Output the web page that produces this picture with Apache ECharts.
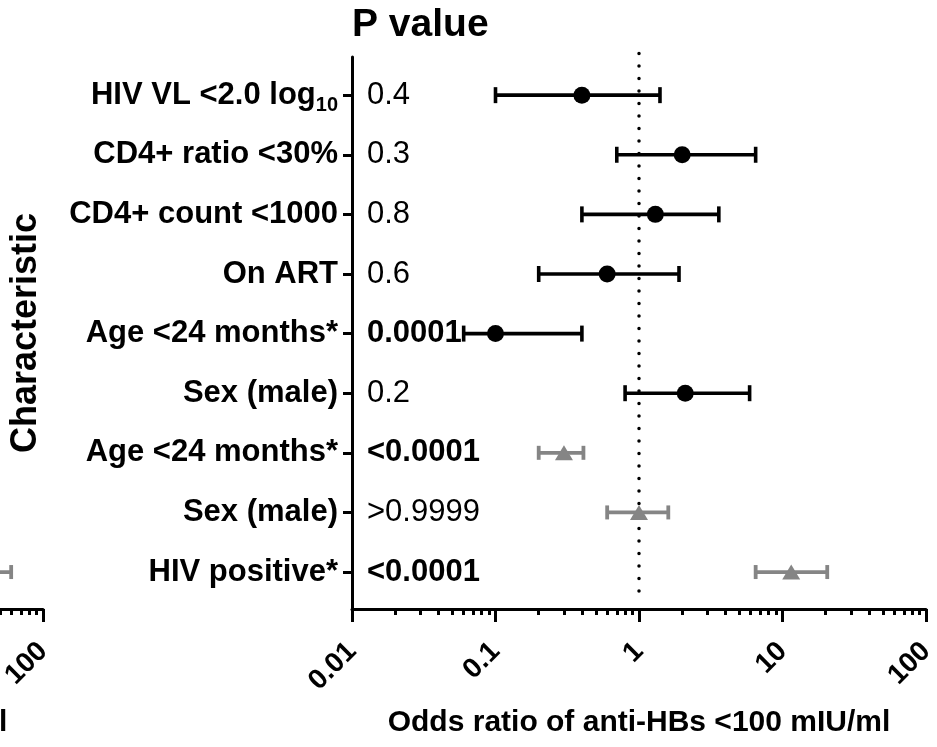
<!DOCTYPE html>
<html>
<head>
<meta charset="utf-8">
<script src="https://cdn.jsdelivr.net/npm/echarts@6/dist/echarts.min.js"></script>
<style>
  html, body { margin: 0; padding: 0; background: #ffffff; }
  #chart { width: 937px; height: 747px; }
</style>
</head>
<body>
<div id="chart"></div>
<script>
// Forest plot: odds ratios (95% CI) of anti-HBs <100 mIU/ml by characteristic.
// Rows are listed top to bottom; "_" marks the start of a subscript.
const characteristics = [
  'HIV VL <2.0 log_10',
  'CD4+ ratio <30%',
  'CD4+ count <1000',
  'On ART',
  'Age <24 months*',
  'Sex (male)',
  'Age <24 months*',
  'Sex (male)',
  'HIV positive*'
];
const pValues = ['0.4', '0.3', '0.8', '0.6', '0.0001', '0.2', '<0.0001', '>0.9999', '<0.0001'];
const pSignificant = [false, false, false, false, true, false, true, false, true];

const oddsRatio = [0.4, 2.0, 1.3, 0.6, 0.1, 2.1, 0.3, 1.0, 11.5];
const ciLower   = [0.1, 0.7, 0.4, 0.2, 0.06, 0.8, 0.2, 0.6, 6.5];
const ciUpper   = [1.4, 6.5, 3.6, 1.9, 0.4, 5.9, 0.41, 1.6, 20.5];

// Row groups: HIV-infected children (black circles), all children (grey triangles)
const hivRows = [0, 1, 2, 3, 4, 5];
const allRows = [6, 7, 8];

// Neighbouring panel, of which only the right edge is in view (HIV positive row)
const sideOddsRatio = [20];
const sideCiLower = [7];
const sideCiUpper = [60];
const sideRowIndex = [8];

const tickValues = [0.01, 0.1, 1, 10, 100];
const tickLabels = ['0.01', '0.1', '1', '10', '100'];
const minorMultipliers = [2, 3, 4, 5, 6, 7, 8, 9];
const referenceOdds = 1;
const xAxisTitle = 'Odds ratio of anti-HBs <100 mIU/ml';
const yAxisTitle = 'Characteristic';
const columnTitle = 'P value';

const FONT = '"Liberation Sans", Arial, Helvetica, sans-serif';
const GREY = '#858585';

// row slot positions (1 = top row)
const rowPos = characteristics.map((_, i) => i + 1);
const yMin = 0.36, yMax = 9.62;
const refSpan = [0.3, 9.5];

// minor tick positions in log10 space
const minorTickExps = [];
tickValues.slice(0, -1).forEach(d => minorMultipliers.forEach(m => minorTickExps.push(Math.log10(d * m))));

function rowIndex(v) { return Math.round(v) - 1; }

function categoryLabel(v) {
  const t = characteristics[rowIndex(v)] || '';
  const parts = t.split('_');
  return parts.length > 1 ? '{b|' + parts[0] + '}{s|' + parts[1] + '}' : '{b|' + t + '}';
}
function pLabel(v) {
  const i = rowIndex(v);
  return (pSignificant[i] ? '{bb|' : '{r|') + pValues[i] + '}';
}
function tickLabel(v) {
  const e = Math.log10(v);
  let best = 0;
  tickValues.forEach((t, k) => { if (Math.abs(Math.log10(t) - e) < Math.abs(Math.log10(tickValues[best]) - e)) best = k; });
  return tickLabels[best];
}

function oddsAxis(gridIndex) {
  return {
    gridIndex, type: 'log', logBase: 10, min: 0.01, max: 100, position: 'bottom',
    name: xAxisTitle, nameLocation: 'middle', nameGap: 99,
    nameTextStyle: { fontFamily: FONT, fontWeight: 'bold', fontSize: 30, color: '#000' },
    axisLine: { show: true, onZero: false, lineStyle: { color: '#000', width: 3 } },
    axisTick: { show: true, length: 13, lineStyle: { color: '#000', width: 3 } },
    minorTick: { show: false },
    axisLabel: {
      rotate: 45, margin: 38, fontFamily: FONT, fontWeight: 'bold', fontSize: 28, color: '#000',
      showMinLabel: true, showMaxLabel: true, formatter: tickLabel
    },
    splitLine: { show: false }
  };
}
function minorTickAxis(gridIndex) {
  return {
    gridIndex, type: 'value', min: -2, max: 2, position: 'bottom',
    axisLine: { show: false, onZero: false },
    axisLabel: { show: false },
    splitLine: { show: false },
    axisTick: { show: true, customValues: minorTickExps, length: 6, lineStyle: { color: '#000', width: 3 } }
  };
}

function errorBars(rows, lo, hi, pos, color, width, capHalf, xi, yi) {
  return {
    type: 'custom', xAxisIndex: xi, yAxisIndex: yi, z: 3, clip: false,
    data: rows.map((r, k) => [lo[k], hi[k], pos[k]]),
    encode: { x: [0, 1], y: 2 },
    renderItem(params, api) {
      const y = api.value(2);
      const a = api.coord([api.value(0), y]);
      const b = api.coord([api.value(1), y]);
      const st = { stroke: color, lineWidth: width, fill: null };
      return {
        type: 'group', children: [
          { type: 'line', shape: { x1: a[0], y1: a[1], x2: b[0], y2: b[1] }, style: st },
          { type: 'line', shape: { x1: a[0], y1: a[1] - capHalf, x2: a[0], y2: a[1] + capHalf }, style: st },
          { type: 'line', shape: { x1: b[0], y1: b[1] - capHalf, x2: b[0], y2: b[1] + capHalf }, style: st }
        ]
      };
    }
  };
}
function pick(arr, rows) { return rows.map(i => arr[i]); }

const chart = echarts.init(document.getElementById('chart'), null, { renderer: 'canvas' });

const option = {
  animation: false,
  backgroundColor: '#ffffff',
  title: {
    text: columnTitle, left: 352, top: 6, padding: 0,
    textStyle: { fontFamily: FONT, fontWeight: 'bold', fontSize: 39, color: '#000' }
  },
  grid: [
    { left: 352, right: 11, top: 57, bottom: 138, containLabel: false, outerBoundsMode: 'none' },
    { left: -531, width: 574, top: 57, bottom: 138, containLabel: false, outerBoundsMode: 'none' }
  ],
  xAxis: [oddsAxis(0), minorTickAxis(0), oddsAxis(1), minorTickAxis(1)],
  yAxis: [
    {
      gridIndex: 0, type: 'value', inverse: true, min: yMin, max: yMax, position: 'left',
      name: yAxisTitle, nameLocation: 'middle', nameGap: 308,
      nameTextStyle: { fontFamily: FONT, fontWeight: 'bold', fontSize: 36, color: '#000' },
      axisLine: { show: true, onZero: false, lineStyle: { color: '#000', width: 3 } },
      axisTick: { show: true, customValues: rowPos, length: 9, lineStyle: { color: '#000', width: 3 } },
      axisLabel: {
        customValues: rowPos, margin: 14, formatter: categoryLabel,
        fontFamily: FONT, fontWeight: 'bold', fontSize: 31, color: '#000',
        rich: {
          b: { fontFamily: FONT, fontWeight: 'bold', fontSize: 31, color: '#000', lineHeight: 40 },
          s: { fontFamily: FONT, fontWeight: 'bold', fontSize: 20, color: '#000', lineHeight: 20, verticalAlign: 'bottom' }
        }
      },
      splitLine: { show: false }
    },
    {
      gridIndex: 0, type: 'value', inverse: true, min: yMin, max: yMax, position: 'left',
      axisLine: { show: false, onZero: false }, axisTick: { show: false }, splitLine: { show: false },
      axisLabel: {
        inside: true, customValues: rowPos, margin: 15, formatter: pLabel,
        fontFamily: FONT, fontSize: 31, color: '#000',
        rich: {
          r: { fontFamily: FONT, fontWeight: 'normal', fontSize: 31, color: '#000' },
          bb: { fontFamily: FONT, fontWeight: 'bold', fontSize: 31, color: '#000' }
        }
      }
    },
    { gridIndex: 1, type: 'value', inverse: true, min: yMin, max: yMax, show: false, axisLine: { onZero: false } }
  ],
  series: [
    {
      // reference line at OR = 1
      type: 'line', xAxisIndex: 0, yAxisIndex: 0, z: 1, clip: false, symbol: 'none', silent: true,
      data: refSpan.map(y => [referenceOdds, y]),
      lineStyle: { color: '#000', width: 3.5, type: [0.1, 12.4], cap: 'round' }
    },
    errorBars(hivRows, pick(ciLower, hivRows), pick(ciUpper, hivRows), pick(rowPos, hivRows), '#000', 3.6, 8, 0, 0),
    errorBars(allRows, pick(ciLower, allRows), pick(ciUpper, allRows), pick(rowPos, allRows), GREY, 3.8, 7, 0, 0),
    {
      type: 'scatter', xAxisIndex: 0, yAxisIndex: 0, z: 4,
      symbol: 'circle', symbolSize: 17, itemStyle: { color: '#000', opacity: 1 },
      data: hivRows.map(i => [oddsRatio[i], rowPos[i]])
    },
    {
      type: 'scatter', xAxisIndex: 0, yAxisIndex: 0, z: 4,
      symbol: 'triangle', symbolSize: [18, 15], itemStyle: { color: GREY, opacity: 1 },
      data: allRows.map(i => [oddsRatio[i], rowPos[i]])
    },
    errorBars(sideRowIndex, sideCiLower, sideCiUpper, pick(rowPos, sideRowIndex), GREY, 3.8, 7, 2, 2),
    {
      type: 'scatter', xAxisIndex: 2, yAxisIndex: 2, z: 4,
      symbol: 'triangle', symbolSize: [18, 15], itemStyle: { color: GREY, opacity: 1 },
      data: sideRowIndex.map((r, k) => [sideOddsRatio[k], rowPos[r]])
    }
  ]
};

chart.setOption(option);
</script>
</body>
</html>
